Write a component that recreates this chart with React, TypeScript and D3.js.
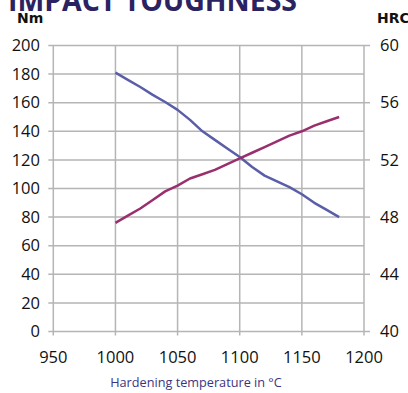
import { useRef, useEffect } from "react";
import * as d3 from "d3";

const temps = [1000, 1010, 1020, 1030, 1040, 1050, 1060, 1070, 1080, 1090, 1100, 1110, 1120, 1130, 1140, 1150, 1160, 1170, 1180];
const toughness = [181, 176, 171, 165.5, 160.5, 155, 148, 140, 134, 128, 122, 115, 109, 105, 101, 96, 90, 85, 80];
const hardness = [47.6, 48.1, 48.6, 49.2, 49.8, 50.2, 50.7, 51.0, 51.3, 51.7, 52.1, 52.5, 52.9, 53.3, 53.7, 54.0, 54.4, 54.7, 55.0];
const xTicks = [950, 1000, 1050, 1100, 1150, 1200];
const leftTicks = [0, 20, 40, 60, 80, 100, 120, 140, 160, 180, 200];
const rightTicks = [40, 44, 48, 52, 56, 60];

export default function App() {
	const ref = useRef<HTMLDivElement>(null);

	useEffect(() => {
		const width = 408;
		const height = 393;
		const margin = { top: 45.5, right: 44, bottom: 61.5, left: 53.3 };
		const font = "'Open Sans', sans-serif";

		d3.select(ref.current).selectAll("*").remove();
		const svg = d3
			.select(ref.current)
			.append("svg")
			.attr("width", width)
			.attr("height", height)
			.style("display", "block");

		const x = d3.scaleLinear().domain([950, 1200]).range([margin.left, width - margin.right]);
		const yL = d3.scaleLinear().domain([0, 200]).range([height - margin.bottom, margin.top]);
		const yR = d3.scaleLinear().domain([40, 60]).range([height - margin.bottom, margin.top]);

		const grid = "#b5b5b5";

		// ---- Title (cut off at top) ----
		svg.append("text")
			.attr("x", 8)
			.attr("y", 11)
			.attr("textLength", 289)
			.attr("lengthAdjust", "spacingAndGlyphs")
			.style("font-family", font)
			.style("font-weight", 700)
			.style("font-size", "30px")
			.style("fill", "#2b2262")
			.text("IMPACT TOUGHNESS");

		svg.append("text")
			.attr("x", 17)
			.attr("y", 23)
			.style("font-family", "'DejaVu Sans', sans-serif")
			.style("font-weight", 700)
			.style("font-size", "14px")
			.style("fill", "#111")
			.text("Nm");

		svg.append("text")
			.attr("x", 377)
			.attr("y", 23)
			.style("font-family", "'DejaVu Sans', sans-serif")
			.style("font-weight", 700)
			.style("font-size", "14px")
			.style("fill", "#111")
			.text("HRC");

		// ---- Grid ----
		svg.append("g")
			.selectAll("line")
			.data(leftTicks)
			.enter()
			.append("line")
			.attr("x1", margin.left - 5)
			.attr("x2", width - margin.right)
			.attr("y1", (d) => yL(d))
			.attr("y2", (d) => yL(d))
			.attr("stroke", grid)
			.attr("stroke-width", 1.5);

		svg.append("g")
			.selectAll("line")
			.data(xTicks)
			.enter()
			.append("line")
			.attr("x1", (d) => x(d))
			.attr("x2", (d) => x(d))
			.attr("y1", margin.top)
			.attr("y2", height - margin.bottom + 4)
			.attr("stroke", grid)
			.attr("stroke-width", 1.5);

		svg.append("g")
			.selectAll("line")
			.data(rightTicks)
			.enter()
			.append("line")
			.attr("x1", width - margin.right)
			.attr("x2", width - margin.right + 6)
			.attr("y1", (d) => yR(d))
			.attr("y2", (d) => yR(d))
			.attr("stroke", grid)
			.attr("stroke-width", 1.5);

		// ---- Tick labels ----
		const tickStyle = (sel: any) =>
			sel.style("font-family", font).style("font-size", "16.5px").style("fill", "#111");

		svg.append("g")
			.selectAll("text")
			.data(leftTicks)
			.enter()
			.append("text")
			.attr("x", 40)
			.attr("y", (d) => yL(d))
			.attr("dy", "0.35em")
			.attr("text-anchor", "end")
			.call(tickStyle)
			.text((d) => d);

		svg.append("g")
			.selectAll("text")
			.data(rightTicks)
			.enter()
			.append("text")
			.attr("x", 380)
			.attr("y", (d) => yR(d))
			.attr("dy", "0.35em")
			.call(tickStyle)
			.text((d) => d);

		svg.append("g")
			.selectAll("text")
			.data(xTicks)
			.enter()
			.append("text")
			.attr("x", (d) => x(d))
			.attr("y", 357)
			.attr("dy", "0.35em")
			.attr("text-anchor", "middle")
			.call(tickStyle)
			.text((d) => d);

		svg.append("text")
			.attr("x", 196)
			.attr("y", 383)
			.attr("dy", "0.35em")
			.attr("text-anchor", "middle")
			.style("font-family", font)
			.style("font-size", "12.7px")
			.style("fill", "#3b3480")
			.text("Hardening temperature in °C");

		// ---- Lines ----
		const lineL = d3
			.line<number>()
			.x((_, i) => x(temps[i]))
			.y((d) => yL(d));
		const lineR = d3
			.line<number>()
			.x((_, i) => x(temps[i]))
			.y((d) => yR(d));

		svg.append("path")
			.datum(toughness)
			.attr("d", lineL)
			.attr("fill", "none")
			.attr("stroke", "#5a5ea8")
			.attr("stroke-width", 2.5)
			.attr("stroke-linejoin", "round");

		svg.append("path")
			.datum(hardness)
			.attr("d", lineR)
			.attr("fill", "none")
			.attr("stroke", "#9a2f6e")
			.attr("stroke-width", 2.5)
			.attr("stroke-linejoin", "round");
	}, []);

	return <div ref={ref} style={{ position: "absolute", left: 0, top: 0 }} />;
}
